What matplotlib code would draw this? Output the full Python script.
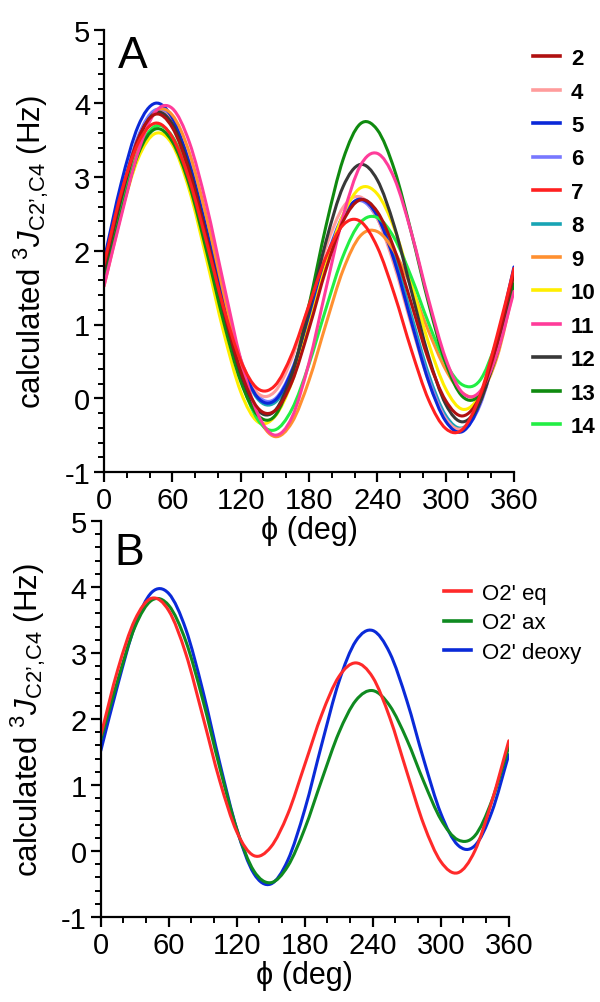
import numpy as np
import matplotlib
matplotlib.use('Agg')
import matplotlib.pyplot as plt
from matplotlib.path import Path
from matplotlib.patches import PathPatch
from matplotlib.lines import Line2D
from matplotlib.ticker import MultipleLocator

plt.rcParams['font.family'] = ['Liberation Sans', 'DejaVu Sans']
plt.rcParams['axes.unicode_minus'] = False
plt.rcParams['mathtext.fontset'] = 'custom'
plt.rcParams['mathtext.rm'] = 'Liberation Sans'
plt.rcParams['mathtext.it'] = 'Liberation Sans:italic'

# dihedral angle (deg), values read every 15 deg
phi = list(range(0, 361, 15))

# panel A : calculated 3J(C2',C4) (Hz) per compound
labels_a = ['2', '4', '5', '6', '7', '8', '9', '10', '11', '12', '13', '14']
j_a2 = [1.78, 2.75, 3.52, 3.85, 3.67, 3.07, 2.18, 1.21, 0.37, -0.13, -0.17, 0.22, 0.94,
        1.75, 2.40, 2.69, 2.53, 2.02, 1.28, 0.52, -0.03, -0.24, 0.02, 0.74, 1.70]
j_a4 = [1.75, 2.70, 3.48, 3.86, 3.75, 3.18, 2.31, 1.34, 0.53, 0.07, 0.09, 0.54, 1.27,
        2.05, 2.59, 2.73, 2.44, 1.80, 0.99, 0.23, -0.28, -0.41, -0.07, 0.69, 1.65]
j_a5 = [1.87, 2.91, 3.69, 4.00, 3.80, 3.18, 2.29, 1.32, 0.50, 0.01, -0.03, 0.37, 1.07,
        1.86, 2.47, 2.70, 2.47, 1.86, 1.03, 0.23, -0.31, -0.45, -0.07, 0.76, 1.78]
j_a6 = [1.78, 2.75, 3.55, 3.91, 3.77, 3.20, 2.32, 1.36, 0.53, 0.04, -0.01, 0.39, 1.10,
        1.89, 2.48, 2.68, 2.44, 1.84, 1.04, 0.27, -0.27, -0.43, -0.10, 0.68, 1.68]
j_a7 = [1.82, 2.78, 3.46, 3.73, 3.54, 2.96, 2.12, 1.23, 0.51, 0.13, 0.17, 0.60, 1.26,
        1.92, 2.35, 2.40, 2.05, 1.41, 0.65, -0.02, -0.41, -0.42, 0.03, 0.84, 1.76]
j_a8 = [1.76, 2.74, 3.53, 3.89, 3.75, 3.17, 2.29, 1.32, 0.49, -0.01, -0.06, 0.33, 1.03,
        1.83, 2.45, 2.70, 2.51, 1.93, 1.12, 0.33, -0.23, -0.40, -0.07, 0.69, 1.66]
j_a9 = [1.52, 2.49, 3.40, 3.88, 3.84, 3.33, 2.46, 1.43, 0.45, -0.24, -0.52, -0.33, 0.24,
        1.01, 1.74, 2.20, 2.26, 1.99, 1.50, 0.91, 0.39, 0.07, 0.06, 0.55, 1.50]
j_a10 = [1.64, 2.51, 3.25, 3.59, 3.44, 2.82, 1.89, 0.90, 0.09, -0.32, -0.25, 0.22, 0.98,
         1.81, 2.49, 2.85, 2.77, 2.30, 1.55, 0.75, 0.13, -0.15, 0.04, 0.66, 1.58]
j_a11 = [1.52, 2.46, 3.34, 3.88, 3.93, 3.47, 2.62, 1.56, 0.53, -0.21, -0.50, -0.26, 0.48,
         1.49, 2.47, 3.15, 3.32, 2.98, 2.24, 1.34, 0.54, 0.07, 0.09, 0.60, 1.45]
j_a12 = [1.74, 2.70, 3.50, 3.87, 3.72, 3.11, 2.20, 1.19, 0.34, -0.16, -0.17, 0.33, 1.18,
         2.13, 2.87, 3.17, 2.96, 2.33, 1.45, 0.57, -0.08, -0.32, -0.06, 0.67, 1.70]
j_a13 = [1.62, 2.51, 3.31, 3.65, 3.48, 2.89, 2.00, 1.04, 0.23, -0.23, -0.24, 0.31, 1.26,
         2.34, 3.24, 3.72, 3.64, 3.10, 2.24, 1.29, 0.48, 0.02, 0.05, 0.60, 1.55]
j_a14 = [1.64, 2.58, 3.34, 3.69, 3.55, 2.99, 2.12, 1.14, 0.27, -0.29, -0.43, -0.15, 0.46,
         1.22, 1.93, 2.38, 2.45, 2.17, 1.64, 1.02, 0.48, 0.18, 0.24, 0.78, 1.55]

# panel B : O2' orientation
labels_b = ["O2' eq", "O2' ax", "O2' deoxy"]
j_eq = [1.75, 2.75, 3.50, 3.83, 3.64, 2.99, 2.04, 1.06, 0.29, -0.07, 0.06, 0.56, 1.31,
        2.07, 2.64, 2.85, 2.63, 2.02, 1.20, 0.40, -0.16, -0.33, 0.00, 0.75, 1.67]
j_ax = [1.68, 2.59, 3.39, 3.80, 3.72, 3.18, 2.29, 1.26, 0.33, -0.30, -0.48, -0.23, 0.34,
        1.08, 1.79, 2.28, 2.43, 2.20, 1.69, 1.05, 0.48, 0.17, 0.23, 0.76, 1.58]
j_deoxy = [1.52, 2.52, 3.41, 3.92, 3.90, 3.36, 2.43, 1.33, 0.33, -0.34, -0.50, -0.14, 0.63,
           1.62, 2.56, 3.18, 3.34, 3.00, 2.28, 1.38, 0.57, 0.09, 0.08, 0.59, 1.46]

colors_a = {'2': '#b01010', '4': '#ff9c9c', '5': '#0a28d8', '6': '#7878ff',
            '7': '#ff2020', '8': '#18a4b4', '9': '#ff9030', '10': '#ffee00',
            '11': '#ff3c9a', '12': '#383838', '13': '#0f8a0f', '14': '#22ee44'}
colors_b = ['#ff2a2a', '#0f8a20', '#0a2ad8']

data_a = {'2': j_a2, '4': j_a4, '5': j_a5, '6': j_a6, '7': j_a7, '8': j_a8, '9': j_a9,
          '10': j_a10, '11': j_a11, '12': j_a12, '13': j_a13, '14': j_a14}
draw_order = ['8', '6', '4', '5', '9', '10', '14', '13', '12', '11', '2', '7']


def smooth_path(x, y):
    # catmull-rom through the read points, as cubic bezier segments
    pts = np.column_stack([x, y]).astype(float)
    ext = np.vstack([2 * pts[0] - pts[1], pts, 2 * pts[-1] - pts[-2]])
    verts = [pts[0]]
    codes = [Path.MOVETO]
    for i in range(len(pts) - 1):
        p0, p1, p2, p3 = ext[i], ext[i + 1], ext[i + 2], ext[i + 3]
        verts += [p1 + (p2 - p0) / 6, p2 - (p3 - p1) / 6, p2]
        codes += [Path.CURVE4] * 3
    return Path(verts, codes)


def draw_curve(ax, x, y, color, lw=2.2):
    ax.add_patch(PathPatch(smooth_path(x, y), fill=False, edgecolor=color,
                           lw=lw, capstyle='round', joinstyle='round'))


def style_axes(ax, letter, letter_y):
    ax.set_xlim(0, 360)
    ax.set_ylim(-1, 5)
    ax.patch.set_visible(False)
    for s in ['top', 'right']:
        ax.spines[s].set_visible(False)
    for s in ['left', 'bottom']:
        ax.spines[s].set_linewidth(1.6)
    ax.xaxis.set_major_locator(MultipleLocator(60))
    ax.xaxis.set_minor_locator(MultipleLocator(20))
    ax.yaxis.set_major_locator(MultipleLocator(1))
    ax.yaxis.set_minor_locator(MultipleLocator(0.2))
    ax.tick_params(which='major', length=7, width=1.6, labelsize=21, pad=3)
    ax.tick_params(which='minor', length=4.5, width=1.4)
    ax.set_xlabel('ϕ (deg)', fontsize=22, labelpad=1,
                  family=['Liberation Sans', 'DejaVu Sans'])
    ax.set_ylabel("calculated $^{3}J_{\\mathrm{C2’{,}C4}}$ (Hz)", fontsize=22.5)
    ax.yaxis.set_label_coords(-0.13, 0.5)
    ax.text(12, letter_y, letter, fontsize=32, va='top', ha='left')


fig = plt.figure(figsize=(6, 10.03), dpi=100)

ax_a = fig.add_axes([0.1733, 1 - 473 / 1003, 0.6833, 442.5 / 1003])
style_axes(ax_a, 'A', 4.92)
for key in draw_order:
    draw_curve(ax_a, phi, data_a[key], colors_a[key])
handles = [Line2D([], [], color=colors_a[k], lw=2.6) for k in labels_a]
ax_a.legend(handles, labels_a, loc='upper left', bbox_to_anchor=(1.047, 0.958),
            frameon=False, borderaxespad=0, borderpad=0, handlelength=1.2,
            handletextpad=0.5, labelspacing=0.56,
            prop={'weight': 'bold', 'size': 16})

ax_b = fig.add_axes([0.168, 1 - 918 / 1003, 0.68, 396 / 1003])
style_axes(ax_b, 'B', 4.84)
for vals, c in zip([j_deoxy, j_ax, j_eq], colors_b[::-1]):
    draw_curve(ax_b, phi, vals, c)
handles_b = [Line2D([], [], color=c, lw=2.6) for c in colors_b]
ax_b.legend(handles_b, labels_b, loc='upper left', bbox_to_anchor=(0.842, 0.843),
            frameon=False, borderaxespad=0, borderpad=0, handlelength=1.2,
            handletextpad=0.5, labelspacing=0.37,
            prop={'size': 16})

fig.savefig('out.png', dpi=100)
